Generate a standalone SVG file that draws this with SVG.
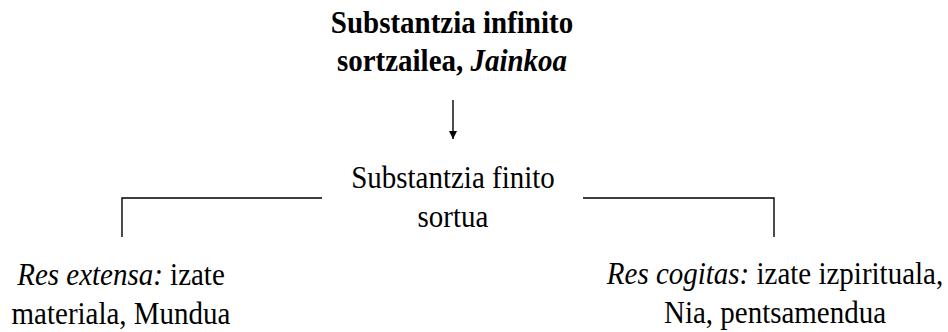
<svg xmlns="http://www.w3.org/2000/svg" width="948" height="332" viewBox="0 0 948 332">
<style>
  .ln { stroke: #000; stroke-width: 1.4; fill: none; }
</style>
<defs>
  <marker id="ah" viewBox="0 0 8 10" refX="8" refY="5" markerUnits="userSpaceOnUse" markerWidth="8" markerHeight="10" orient="auto">
    <path d="M0,1 L8,5 L0,9 z" fill="#000"/>
  </marker>
</defs>
<rect width="948" height="332" fill="#fff"/>
<g id="node-infinito" font-family="Liberation Serif, serif" font-size="29" text-anchor="middle" font-weight="bold">
  <text transform="translate(452,33) scale(1,1.12)">Substantzia infinito</text>
  <text transform="translate(452,71) scale(1,1.12)">sortzailea, <tspan font-style="italic">Jainkoa</tspan></text>
</g>
<g id="node-finito" font-family="Liberation Serif, serif" font-size="29" text-anchor="middle">
  <text transform="translate(453,188) scale(1,1.12)">Substantzia finito</text>
  <text transform="translate(453,227) scale(1,1.12)">sortua</text>
</g>
<g id="node-extensa" font-family="Liberation Serif, serif" font-size="29" text-anchor="middle">
  <text transform="translate(121,285) scale(1,1.12)"><tspan font-style="italic">Res extensa:</tspan> izate</text>
  <text transform="translate(121,324) scale(1,1.12)">materiala, Mundua</text>
</g>
<g id="node-cogitas" font-family="Liberation Serif, serif" font-size="29" text-anchor="middle">
  <text transform="translate(775,284) scale(1,1.12)"><tspan font-style="italic">Res cogitas:</tspan> izate izpirituala,</text>
  <text transform="translate(775,323) scale(1,1.12)">Nia, pentsamendua</text>
</g>
<g id="connectors">
  <line class="ln" x1="453" y1="100" x2="453" y2="139" marker-end="url(#ah)"/>
  <polyline class="ln" points="322,198 122,198 122,237"/>
  <polyline class="ln" points="583,198 774,198 774,237"/>
</g>
</svg>
